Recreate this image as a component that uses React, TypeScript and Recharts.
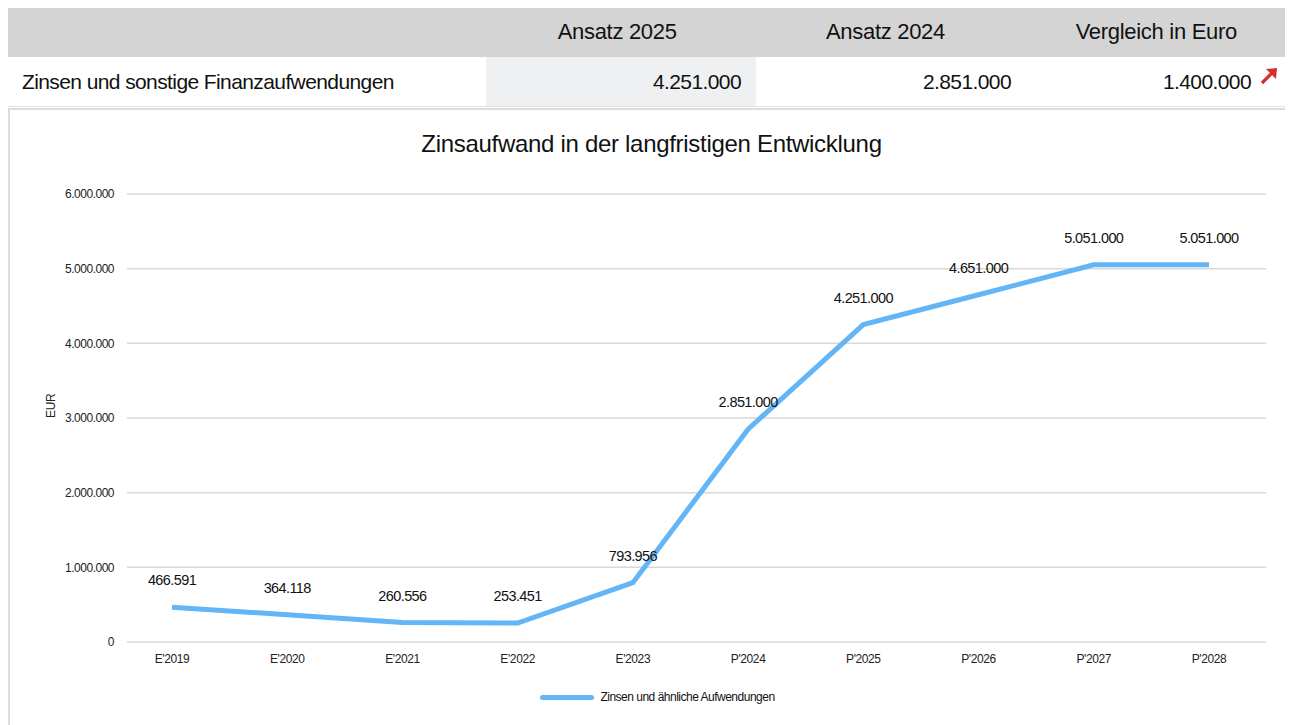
import React from 'react';
import {
  LineChart,
  Line,
  XAxis,
  YAxis,
  CartesianGrid,
  LabelList,
  Label
} from 'recharts';

// Kategorien und Werte
const categories = ["E'2019", "E'2020", "E'2021", "E'2022", "E'2023", "P'2024", "P'2025", "P'2026", "P'2027", "P'2028"];
const zinsValues = [466591, 364118, 260556, 253451, 793956, 2851000, 4251000, 4651000, 5051000, 5051000];
const yTicks = [0, 1000000, 2000000, 3000000, 4000000, 5000000, 6000000];

// Tabelle oben
const tableHeaders = ['Ansatz 2025', 'Ansatz 2024', 'Vergleich in Euro'];
const tableRowLabel = 'Zinsen und sonstige Finanzaufwendungen';
const tableRowValues = [4251000, 2851000, 1400000];

const seriesName = 'Zinsen und ähnliche Aufwendungen';
const lineColor = '#64b5f6';
const FONT = '"Liberation Sans Narrow", "Arial Narrow", "Liberation Sans", Arial, sans-serif';

const fmt = (v: number) => String(Math.round(v)).replace(/\B(?=(\d{3})+(?!\d))/g, '.');

const chartData = categories.map((name, i) => ({ name, value: zinsValues[i] }));

const colWidths = [478, 270, 270, 259];

const Arrow = () => (
  <svg width="20" height="20" viewBox="0 0 20 20" style={{ marginLeft: 8, verticalAlign: 'middle', position: 'relative', top: -6 }}>
    <line x1="3" y1="17" x2="15" y2="5" stroke="#d32f2f" strokeWidth="3.2" />
    <polygon points="7,3 18,2 17,13" fill="#d32f2f" />
  </svg>
);

export default function App() {
  return (
    <div style={{ fontFamily: FONT, width: 1277, marginTop: -1, color: '#111' }}>
      {/* Kopfzeile */}
      <div style={{ display: 'flex', height: 50, background: '#d4d4d4', alignItems: 'center', fontSize: 22, letterSpacing: -0.3 }}>
        <div style={{ width: colWidths[0] }} />
        {tableHeaders.map((h, i) => (
          <div key={h} style={{ width: colWidths[i + 1], textAlign: 'center', paddingLeft: i === 2 ? 8 : 0 }}>{h}</div>
        ))}
      </div>
      {/* Datenzeile */}
      <div style={{ display: 'flex', height: 49, alignItems: 'center', fontSize: 21, letterSpacing: -0.6, borderBottom: '1px solid #e2e2e2' }}>
        <div style={{ width: colWidths[0], paddingLeft: 14, boxSizing: 'border-box' }}>{tableRowLabel}</div>
        {tableRowValues.map((v, i) => (
          <div
            key={i}
            style={{
              width: colWidths[i + 1],
              height: '100%',
              display: 'flex',
              alignItems: 'center',
              justifyContent: 'flex-end',
              paddingRight: i === 2 ? 6 : 15,
              boxSizing: 'border-box',
              background: i === 0 ? '#eef0f1' : 'transparent'
            }}
          >
            {fmt(v)}
            {i === 2 && <Arrow />}
          </div>
        ))}
      </div>

      {/* Diagramm */}
      <div
        style={{
          position: 'relative',
          marginTop: 1,
          width: 1283,
          height: 620,
          borderTop: '2px solid #dcdcdc',
          borderLeft: '2px solid #dcdcdc'
        }}
      >
        <div
          style={{
            position: 'absolute',
            top: 20,
            left: 0,
            width: 1283,
            textAlign: 'center',
            fontSize: 24,
            letterSpacing: -0.3
          }}
        >
          Zinsaufwand in der langfristigen Entwicklung
        </div>
        <LineChart
          width={1283}
          height={610}
          data={chartData}
          margin={{ top: 84, right: 27, bottom: 48, left: 0 }}
        >
          <CartesianGrid vertical={false} stroke="#d9d9d9" strokeWidth={1.5} />
          <XAxis
            dataKey="name"
            axisLine={false}
            tickLine={false}
            tickSize={6}
            tickMargin={6}
            padding={{ left: 45, right: 57 }}
            tick={{ fontSize: 12, fill: '#222', fontFamily: FONT, letterSpacing: -0.4 }}
          />
          <YAxis
            width={117}
            domain={[0, 6000000]}
            ticks={yTicks}
            tickFormatter={fmt}
            axisLine={false}
            tickLine={false}
            tickSize={6}
            tickMargin={7}
            tick={{ fontSize: 12, fill: '#222', fontFamily: FONT, letterSpacing: -0.5 }}
          >
            <Label
              value="EUR"
              angle={-90}
              position="insideLeft"
              offset={41}
              style={{ fontSize: 12, fill: '#222', fontFamily: FONT, letterSpacing: -0.3 }}
            />
          </YAxis>
          <Line
            type="linear"
            dataKey="value"
            name={seriesName}
            stroke={lineColor}
            strokeWidth={5}
            dot={false}
            activeDot={false}
            isAnimationActive={false}
          >
            <LabelList
              dataKey="value"
              position="top"
              offset={22}
              formatter={(v: any) => fmt(Number(v))}
              style={{ fontSize: 14.5, fill: '#111', fontFamily: FONT, letterSpacing: -0.6 }}
            />
          </Line>
        </LineChart>
        {/* Legende */}
        <div
          style={{
            position: 'absolute',
            top: 580,
            left: 0,
            width: 1283,
            display: 'flex',
            justifyContent: 'center',
            alignItems: 'center',
            fontSize: 12,
            letterSpacing: -0.5,
            paddingLeft: 12,
            boxSizing: 'border-box'
          }}
        >
          <span style={{ display: 'inline-block', width: 54, height: 5, borderRadius: 3, background: lineColor, marginRight: 6 }} />
          <span>{seriesName}</span>
        </div>
      </div>
    </div>
  );
}
